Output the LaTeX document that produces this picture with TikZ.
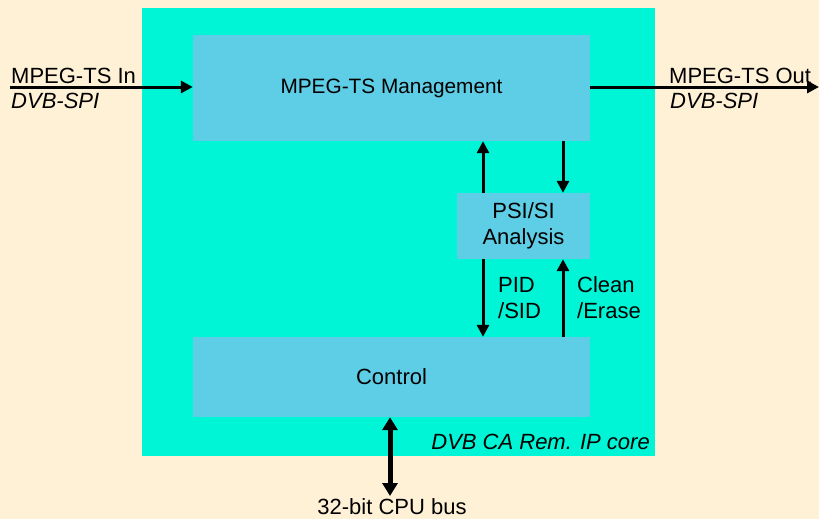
\documentclass[tikz,border=0pt]{standalone}
\usepackage{fontspec}
\setmainfont{Liberation Sans}
\usetikzlibrary{arrows.meta}
\definecolor{bgc}{HTML}{FFF1D6}
\definecolor{corec}{HTML}{00F5D6}
\definecolor{boxc}{HTML}{5ECDE6}
\tikzset{
  blk/.style={fill=boxc, draw=none, inner sep=0pt},
  lbl/.style={inner sep=0pt, font=\fontsize{22}{26}\selectfont},
  arr/.style={line width=3pt, -{Triangle[length=12pt,width=12pt]}},
  bus/.style={line width=5pt, {Triangle[length=13pt,width=15pt]}-{Triangle[length=13pt,width=15pt]}}
}
\begin{document}
\begin{tikzpicture}[x=1pt,y=-1pt]
\fill[bgc] (0,0) rectangle (819,519);
\useasboundingbox (0,0) rectangle (819,519);
\fill[corec] (142,8) rectangle (655,456);
\node[blk, minimum width=397pt, minimum height=106pt] (mgmt) at (391.5,88) {};
\node[lbl, font=\fontsize{20.8}{25}\selectfont] at (mgmt.center) {MPEG-TS Management};
\node[blk, minimum width=133pt, minimum height=66pt] (psi) at (523.5,226) {};
\node[lbl, align=center] at (psi.center) {PSI/SI\\Analysis};
\node[blk, minimum width=397pt, minimum height=80pt] (ctrl) at (391.5,377) {};
\node[lbl] at (ctrl.center) {Control};
% input/output
\coordinate (inL) at (10,87);
\coordinate (outR) at (819,87);
\draw[arr] (inL) -- (mgmt.west |- inL);
\draw[arr] (mgmt.east |- outR) -- (outR);
\node[lbl, anchor=west] (inT) at (11,76) {MPEG-TS In};
\node[lbl, anchor=west] (inS) at (11,101) {\itshape DVB-SPI};
\node[lbl, anchor=west] (outT) at (669,76) {MPEG-TS Out};
\node[lbl, anchor=west] (outS) at (670,101) {\itshape DVB-SPI};
% vertical arrows
\draw[arr] (psi.north -| 483,0) -- (mgmt.south -| 483,0);
\draw[arr] (mgmt.south -| 563,0) -- (psi.north -| 563,0);
\draw[arr] (psi.south -| 483,0) -- (ctrl.north -| 483,0);
\draw[arr] (ctrl.north -| 563,0) -- (psi.south -| 563,0);
\node[lbl, anchor=west, align=left] (pid) at (498,298) {PID\\/SID};
\node[lbl, anchor=west, align=left] (clean) at (577,298) {Clean\\/Erase};
% bus
\node[lbl] (busT) at (392,507) {32-bit CPU bus};
\coordinate (busB) at (390,496);
\draw[bus] (ctrl.south -| busB) -- (busB);
\node[lbl, anchor=east] (core) at (650,442) {\itshape DVB CA Rem. IP core};
\end{tikzpicture}
\end{document}
